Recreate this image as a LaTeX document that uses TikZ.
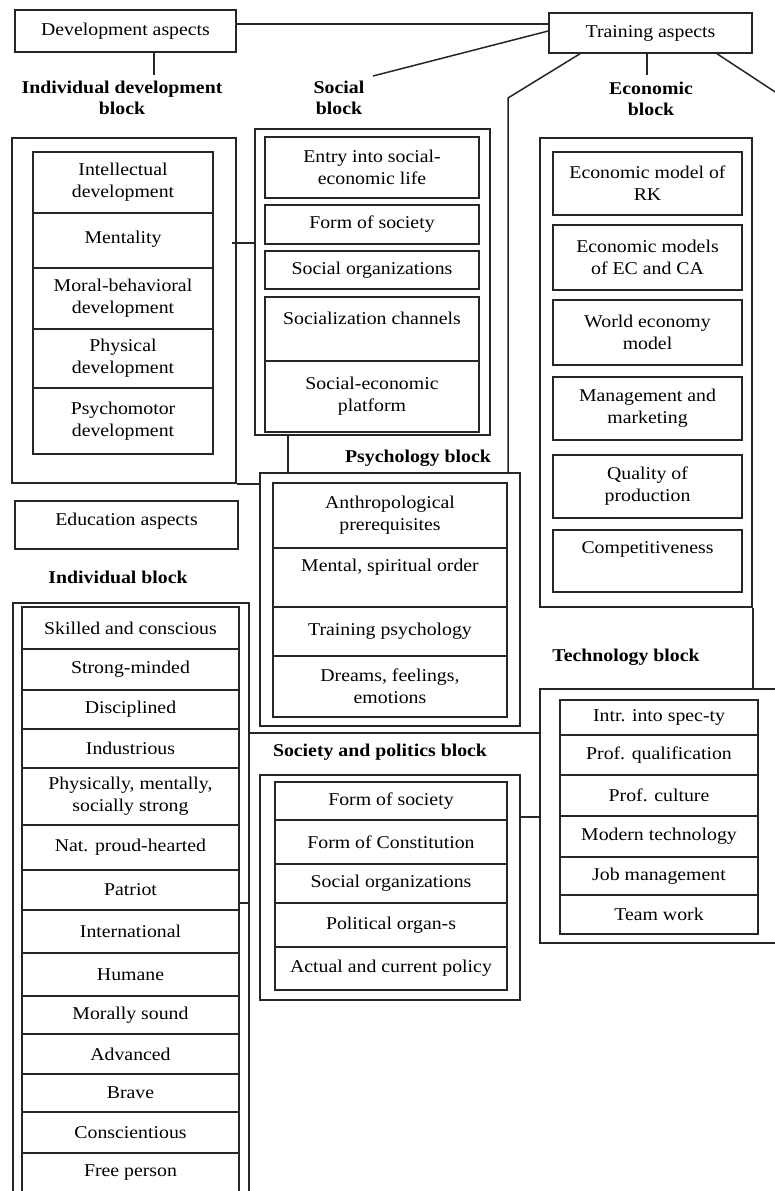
\documentclass[tikz,border=0pt]{standalone}
\usepackage{fontspec}
\setmainfont{Liberation Serif}[FakeStretch=1.1]
\usetikzlibrary{calc}
\newcommand\celltxt{\fontsize{18}{22}\selectfont}
\newcommand\lbltxt{\fontsize{18}{21}\selectfont\bfseries}
\begin{document}
\begin{tikzpicture}[x=1pt,y=-1pt,
  cell/.style={draw=black!85, line width=1.5pt, inner sep=0pt, align=center, font=\celltxt},
  frame/.style={draw=black!85, line width=1.5pt, inner sep=0pt},
  lbl/.style={inner sep=0pt, align=center, font=\lbltxt},
  link/.style={draw=black!85, line width=1.5pt}]
\useasboundingbox (0,0) rectangle (775,1191);
\fill[white] (0,0) rectangle (775,1191);
\clip (0,0) rectangle (775,1191);

% ---------- top aspects ----------
\node[cell, minimum width=221pt, minimum height=42pt] (devasp) at (125.5,31) {Development aspects};
\node[cell, minimum width=203pt, minimum height=40pt] (trainasp) at (650.5,33) {Training aspects};

% ---------- labels ----------
\node[lbl] (iddlab) at (122,98) {Individual development\\block};
\node[lbl] (soclab) at (339,98) {Social\\block};
\node[lbl] (ecolab) at (651,99) {Economic\\block};
\node[lbl] (psylab) at (418,458) {Psychology block};
\node[lbl] (indlab) at (118,577) {Individual block};
\node[lbl] (splab) at (380,752) {Society and politics block};
\node[lbl] (techlab) at (626,657) {Technology block};

% ---------- individual development block ----------
\node[frame, minimum width=224pt, minimum height=345pt] (iddOuter) at (124,310.5) {};
\node[cell, minimum width=180pt, minimum height=61pt] (idd1) at (123,182.5) {Intellectual\\development};
\node[cell, minimum width=180pt, minimum height=55pt] (idd2) at (123,240.5) {Mentality\\[-15pt]\mbox{}};
\node[cell, minimum width=180pt, minimum height=61pt] (idd3) at (123,298.5) {Moral-behavioral\\development};
\node[cell, minimum width=180pt, minimum height=59pt] (idd4) at (123,358.5) {Physical\\development};
\node[cell, minimum width=180pt, minimum height=66pt] (idd5) at (123,421) {Psychomotor\\development};

% ---------- social block ----------
\node[frame, minimum width=235pt, minimum height=306pt] (socOuter) at (372.5,282) {};
\node[cell, minimum width=214pt, minimum height=61pt] (soc1) at (372,167.5) {Entry into social-\\economic life};
\node[cell, minimum width=214pt, minimum height=39pt] (soc2) at (372,224.5) {Form of society};
\node[cell, minimum width=214pt, minimum height=38pt] (soc3) at (372,270) {Social organizations};
\node[cell, minimum width=214pt, minimum height=64pt] (soc4) at (372,329) {Socialization channels\\\mbox{}};
\node[cell, minimum width=214pt, minimum height=71pt] (soc5) at (372,396.5) {Social-economic\\platform};

% ---------- economic block ----------
\node[frame, minimum width=212pt, minimum height=469pt] (ecoOuter) at (646,372.5) {};
\node[cell, minimum width=189pt, minimum height=63pt] (eco1) at (647.5,183.5) {Economic model of\\RK};
\node[cell, minimum width=189pt, minimum height=65pt] (eco2) at (647.5,257.5) {Economic models\\of EC and CA};
\node[cell, minimum width=189pt, minimum height=65pt] (eco3) at (647.5,332.5) {World economy\\model};
\node[cell, minimum width=189pt, minimum height=63pt] (eco4) at (647.5,408.5) {Management and\\marketing};
\node[cell, minimum width=189pt, minimum height=63pt] (eco5) at (647.5,486.5) {Quality of\\production};
\node[cell, minimum width=189pt, minimum height=62pt] (eco6) at (647.5,561) {Competitiveness\\[4pt]\mbox{}};

% ---------- psychology block ----------
\node[frame, minimum width=260pt, minimum height=253pt] (psyOuter) at (390,599.5) {};
\node[cell, minimum width=234pt, minimum height=65pt] (psy1) at (390,515.5) {Anthropological\\prerequisites};
\node[cell, minimum width=234pt, minimum height=59pt] (psy2) at (390,577.5) {Mental, spiritual order\\[3pt]\mbox{}};
\node[cell, minimum width=234pt, minimum height=49pt] (psy3) at (390,631.5) {Training psychology};
\node[cell, minimum width=234pt, minimum height=61pt] (psy4) at (390,686.5) {Dreams, feelings,\\emotions};

% ---------- education aspects / individual block ----------
\node[cell, minimum width=223pt, minimum height=48pt] (eduasp) at (126.5,525) {Education aspects\\[-10pt]\mbox{}};
\node[frame, minimum width=236pt, minimum height=617pt] (indOuter) at (131,911.5) {};
\node[cell, minimum width=217pt, minimum height=42pt] (ind1) at (130.5,628) {Skilled and conscious};
\node[cell, minimum width=217pt, minimum height=41pt] (ind2) at (130.5,669.5) {Strong-minded};
\node[cell, minimum width=217pt, minimum height=39pt] (ind3) at (130.5,709.5) {Disciplined};
\node[cell, minimum width=217pt, minimum height=39pt] (ind4) at (130.5,748.5) {Industrious};
\node[cell, minimum width=217pt, minimum height=57pt] (ind5) at (130.5,796.5) {Physically, mentally,\\socially strong};
\node[cell, minimum width=217pt, minimum height=45pt] (ind6) at (130.5,847.5) {Nat. proud-hearted};
\node[cell, minimum width=217pt, minimum height=40pt] (ind7) at (130.5,890) {Patriot};
\node[cell, minimum width=217pt, minimum height=43pt] (ind8) at (130.5,931.5) {International};
\node[cell, minimum width=217pt, minimum height=43pt] (ind9) at (130.5,974.5) {Humane};
\node[cell, minimum width=217pt, minimum height=38pt] (ind10) at (130.5,1015) {Morally sound};
\node[cell, minimum width=217pt, minimum height=40pt] (ind11) at (130.5,1054) {Advanced};
\node[cell, minimum width=217pt, minimum height=38pt] (ind12) at (130.5,1093) {Brave};
\node[cell, minimum width=217pt, minimum height=41pt] (ind13) at (130.5,1132.5) {Conscientious};
\node[cell, minimum width=217pt, minimum height=40pt] (ind14) at (130.5,1173) {Free person};

% ---------- society and politics block ----------
\node[frame, minimum width=260pt, minimum height=225pt] (spOuter) at (390,887.5) {};
\node[cell, minimum width=232pt, minimum height=38pt] (sp1) at (391,801) {Form of society};
\node[cell, minimum width=232pt, minimum height=44pt] (sp2) at (391,842) {Form of Constitution};
\node[cell, minimum width=232pt, minimum height=39pt] (sp3) at (391,883.5) {Social organizations};
\node[cell, minimum width=232pt, minimum height=44pt] (sp4) at (391,925) {Political organ-s};
\node[cell, minimum width=232pt, minimum height=43pt] (sp5) at (391,968.5) {Actual and current policy};

% ---------- technology block ----------
\node[frame, minimum width=250pt, minimum height=254pt] (techOuter) at (665,816) {};
\node[cell, minimum width=198pt, minimum height=35pt] (tech1) at (659,717.5) {Intr. into spec-ty};
\node[cell, minimum width=198pt, minimum height=40pt] (tech2) at (659,755) {Prof. qualification};
\node[cell, minimum width=198pt, minimum height=41pt] (tech3) at (659,795.5) {Prof. culture};
\node[cell, minimum width=198pt, minimum height=41pt] (tech4) at (659,836.5) {Modern technology};
\node[cell, minimum width=198pt, minimum height=38pt] (tech5) at (659,876) {Job management};
\node[cell, minimum width=198pt, minimum height=39pt] (tech6) at (659,914.5) {Team work};

% ---------- connectors ----------
\coordinate (devend) at (154,75);
\coordinate (socend) at (373,76);
\coordinate (bend) at (508,98);
\coordinate (ecoend) at (647,75);
\coordinate (rightend) at (795,105);
\draw[link] ([yshift=7pt]devasp.east) -- ([yshift=7pt]devasp.east -| trainasp.west);
\draw[link] (devasp.south -| devend) -- (devend);
\draw[link] ([yshift=2pt]trainasp.west) -- (socend);
\draw[link] (trainasp.south -| 580,0) -- (bend) -- (psyOuter.north -| bend);
\draw[link] (trainasp.south -| ecoend) -- (ecoend);
\draw[link] (trainasp.south -| 717,0) -- (rightend);
\draw[link] (232,243) -- (socOuter.west |- 0,243);
\draw[link] (socOuter.south -| 288,0) -- (psyOuter.north -| 288,0);
\draw[link] (iddOuter.south east) -- (psyOuter.west |- iddOuter.south east);
\draw[link] (ecoOuter.south east) -- (techOuter.north -| ecoOuter.south east);
\draw[link] (indOuter.east |- 0,733) -- (techOuter.west |- 0,733);
\draw[link] (spOuter.east |- 0,817) -- (techOuter.west |- 0,817);
\draw[link] (ind8.east |- 0,903) -- (indOuter.east |- 0,903);
\end{tikzpicture}
\end{document}
